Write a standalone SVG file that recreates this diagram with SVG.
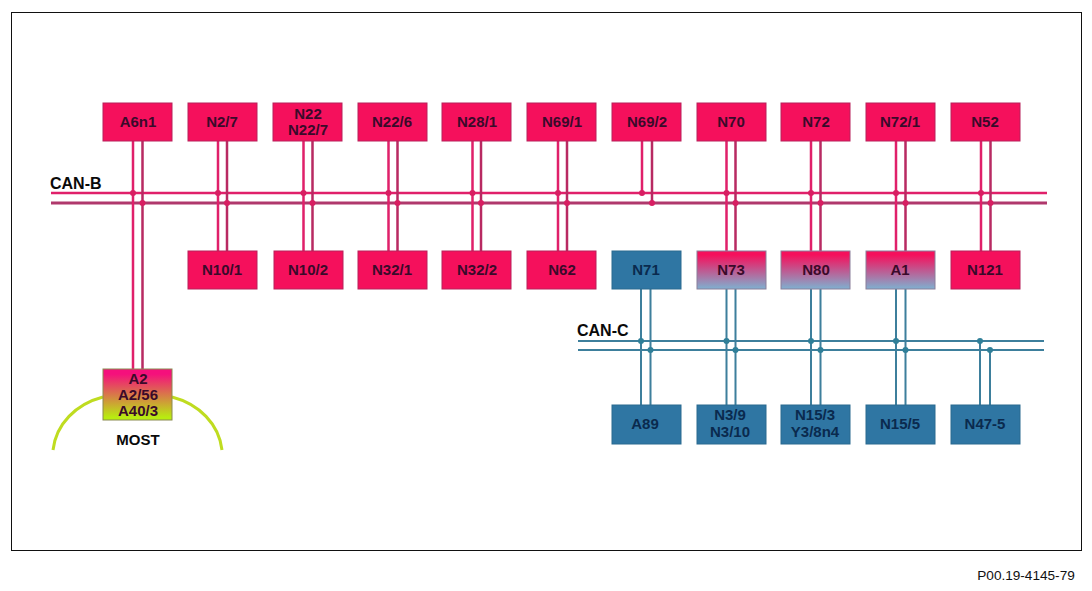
<svg xmlns="http://www.w3.org/2000/svg" width="1092" height="591" viewBox="0 0 1092 591">
<style>
text{font-family:"Liberation Sans",Arial,sans-serif;font-weight:bold;font-size:15px;fill:#3a0a2a;text-anchor:middle}
.lbl{fill:#0a0a0a;text-anchor:start;font-size:16px}
.r{fill:#f5105c;stroke:#b8215a}
.b{fill:#2f76a3;stroke:#2a6a90}
.g{fill:url(#pb);stroke:#8a7f9a}
.m{fill:url(#py);stroke:#8a8a50}
.bt{fill:#0a2a4e}
.w1{stroke:#e0206a;stroke-width:2.5;fill:none}
.w2{stroke:#b82a62;stroke-width:2.5;fill:none}
.c{stroke:#3d7f9c;stroke-width:2;fill:none}
.dr{fill:#d81e62}
.dc{fill:#2f7f98}
</style>
<defs>
<linearGradient id="pb" x1="0" y1="0" x2="0" y2="1"><stop offset="0.1" stop-color="#f5105c"/><stop offset="1" stop-color="#7fb0d0"/></linearGradient>
<linearGradient id="py" x1="0" y1="0" x2="0" y2="1"><stop offset="0.1" stop-color="#f5107c"/><stop offset="0.95" stop-color="#b8ec10"/></linearGradient>
</defs>
<rect x="11.5" y="12.5" width="1070" height="538" fill="#fff" stroke="#111" stroke-width="1"/>
<g id="connectors">
<path class="w1" d="M51 193H1047" stroke-width="2"/>
<path d="M51 203H1047" stroke="#b0386c" stroke-width="3" fill="none"/>
<path class="w1" d="M133 141V369M218 141V251M303.500 141V251M388.500 141V251M472.500 141V251M558 141V251M642 141V193M726.500 141V251M811 141V251M896 141V251M981 141V251"/>
<path class="w2" d="M142.500 141V369M227 141V251M312.500 141V251M397.500 141V251M481 141V251M567 141V251M652 141V203M735.500 141V251M820.500 141V251M905.500 141V251M990.500 141V251"/>
<path class="c" d="M578 341H1044M578 350H1044"/>
<path class="c" stroke-width="2.5" d="M641 289V405M650.500 289V405M726.500 289V405M735.500 289V405M811 289V405M820.500 289V405M896 289V405M905.500 289V405M980 341V405M990 350V405"/>
<g class="dr"><circle cx="133" cy="193" r="3"/><circle cx="142.500" cy="203" r="3"/><circle cx="218" cy="193" r="3"/><circle cx="227" cy="203" r="3"/><circle cx="303.500" cy="193" r="3"/><circle cx="312.500" cy="203" r="3"/><circle cx="388.500" cy="193" r="3"/><circle cx="397.500" cy="203" r="3"/><circle cx="472.500" cy="193" r="3"/><circle cx="481" cy="203" r="3"/><circle cx="558" cy="193" r="3"/><circle cx="567" cy="203" r="3"/><circle cx="642" cy="193" r="3"/><circle cx="652" cy="203" r="3"/><circle cx="726.500" cy="193" r="3"/><circle cx="735.500" cy="203" r="3"/><circle cx="811" cy="193" r="3"/><circle cx="820.500" cy="203" r="3"/><circle cx="896" cy="193" r="3"/><circle cx="905.500" cy="203" r="3"/><circle cx="981" cy="193" r="3"/><circle cx="990.500" cy="203" r="3"/></g>
<g class="dc"><circle cx="641" cy="341" r="3"/><circle cx="650.500" cy="350" r="3"/><circle cx="726.500" cy="341" r="3"/><circle cx="735.500" cy="350" r="3"/><circle cx="811" cy="341" r="3"/><circle cx="820.500" cy="350" r="3"/><circle cx="896" cy="341" r="3"/><circle cx="905.500" cy="350" r="3"/><circle cx="980" cy="341" r="3"/><circle cx="990" cy="350" r="3"/></g>
<path d="M53 450C56 424 76 404 103 397M172 397C199 404 219 424 222 450" fill="none" stroke="#bfdc20" stroke-width="3"/>
</g>
<g id="A6n1"><rect class="r" x="103" y="103" width="69" height="38"/><text x="138" y="127">A6n1</text></g>
<g id="N2-7"><rect class="r" x="188" y="103" width="69" height="38"/><text x="222" y="127">N2/7</text></g>
<g id="N22"><rect class="r" x="273" y="103" width="69" height="38"/><text x="308" y="119">N22</text><text x="308" y="135">N22/7</text></g>
<g id="N22-6"><rect class="r" x="358" y="103" width="69" height="38"/><text x="392" y="127">N22/6</text></g>
<g id="N28-1"><rect class="r" x="442" y="103" width="69" height="38"/><text x="477" y="127">N28/1</text></g>
<g id="N69-1"><rect class="r" x="527" y="103" width="69" height="38"/><text x="562" y="127">N69/1</text></g>
<g id="N69-2"><rect class="r" x="612" y="103" width="69" height="38"/><text x="647" y="127">N69/2</text></g>
<g id="N70"><rect class="r" x="697" y="103" width="69" height="38"/><text x="731" y="127">N70</text></g>
<g id="N72"><rect class="r" x="781" y="103" width="69" height="38"/><text x="816" y="127">N72</text></g>
<g id="N72-1"><rect class="r" x="866" y="103" width="69" height="38"/><text x="900" y="127">N72/1</text></g>
<g id="N52"><rect class="r" x="951" y="103" width="69" height="38"/><text x="985" y="127">N52</text></g>
<g id="N10-1"><rect class="r" x="188" y="251" width="69" height="38"/><text x="222" y="275">N10/1</text></g>
<g id="N10-2"><rect class="r" x="274" y="251" width="69" height="38"/><text x="308" y="275">N10/2</text></g>
<g id="N32-1"><rect class="r" x="358" y="251" width="69" height="38"/><text x="392" y="275">N32/1</text></g>
<g id="N32-2"><rect class="r" x="442" y="251" width="69" height="38"/><text x="477" y="275">N32/2</text></g>
<g id="N62"><rect class="r" x="527" y="251" width="69" height="38"/><text x="562" y="275">N62</text></g>
<g id="N71"><rect class="b" x="612" y="251" width="69" height="38"/><text class="bt" x="646" y="275">N71</text></g>
<g id="N73"><rect class="g" x="697" y="251" width="69" height="38"/><text x="731" y="275">N73</text></g>
<g id="N80"><rect class="g" x="781" y="251" width="69" height="38"/><text x="816" y="275">N80</text></g>
<g id="A1"><rect class="g" x="866" y="251" width="69" height="38"/><text x="900" y="275">A1</text></g>
<g id="N121"><rect class="r" x="951" y="251" width="69" height="38"/><text x="985" y="275">N121</text></g>
<g id="A89"><rect class="b" x="612" y="405" width="69" height="39"/><text class="bt" x="645" y="429">A89</text></g>
<g id="N3-9"><rect class="b" x="697" y="405" width="69" height="39"/><text class="bt" x="730" y="420">N3/9</text><text class="bt" x="730" y="437">N3/10</text></g>
<g id="N15-3"><rect class="b" x="781" y="405" width="69" height="39"/><text class="bt" x="815" y="420">N15/3</text><text class="bt" x="815" y="437">Y3/8n4</text></g>
<g id="N15-5"><rect class="b" x="866" y="405" width="69" height="39"/><text class="bt" x="900" y="429">N15/5</text></g>
<g id="N47-5"><rect class="b" x="951" y="405" width="69" height="39"/><text class="bt" x="985" y="429">N47-5</text></g>
<g id="A2"><rect class="m" x="103" y="369" width="69" height="51"/><text x="138" y="384">A2</text><text x="138" y="400">A2/56</text><text x="138" y="416">A40/3</text></g>
<text class="lbl" x="50" y="189">CAN-B</text>
<text class="lbl" x="577" y="336">CAN-C</text>
<text style="fill:#0a0a0a" x="138" y="445">MOST</text>
<text x="1026" y="580" style="font-weight:normal;font-size:13.600px;fill:#111">P00.19-4145-79</text>
</svg>
